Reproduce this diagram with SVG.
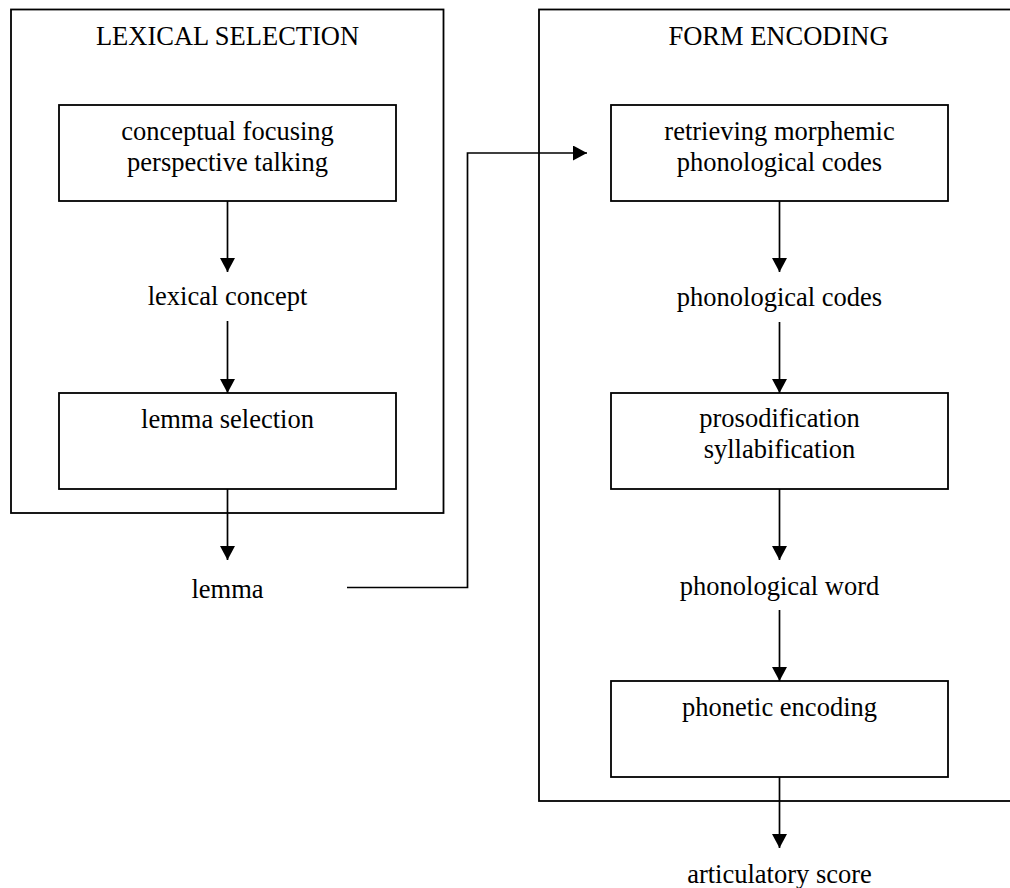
<svg xmlns="http://www.w3.org/2000/svg" width="1010" height="888" viewBox="0 0 1010 888">
<defs>
<style>
.box{fill:none;stroke:#000;stroke-width:1.8}
.frame{fill:none;stroke:#000;stroke-width:1.8}
.lbl{font-family:"Liberation Serif","Times New Roman",serif;font-size:26.5px;fill:#000;text-anchor:middle}
.con{fill:none;stroke:#000;stroke-width:1.7}
</style>
<marker id="ah" viewBox="0 0 14 15" refX="14" refY="7.5" markerWidth="14" markerHeight="15" markerUnits="userSpaceOnUse" orient="auto">
<path d="M0,0 L14,7.5 L0,15 Z" fill="#000"/>
</marker>
</defs>
<rect width="1010" height="888" fill="#fff"/>
<g id="lexical-selection">
<rect class="frame" x="11" y="9.5" width="432.5" height="503.5"/>
<text class="lbl" x="227.5" y="44.5">LEXICAL SELECTION</text>
</g>
<g id="form-encoding">
<rect class="frame" x="539" y="9.5" width="480" height="791.5"/>
<text class="lbl" x="778.5" y="44.5">FORM ENCODING</text>
</g>
<g id="conceptual-focusing">
<rect class="box" x="59" y="105" width="337" height="96"/>
<text class="lbl" x="227.5" y="140">conceptual focusing</text>
<text class="lbl" x="227.5" y="171">perspective talking</text>
</g>
<g id="lexical-concept">
<text class="lbl" x="227.5" y="305">lexical concept</text>
</g>
<g id="lemma-selection">
<rect class="box" x="59" y="393" width="337" height="96"/>
<text class="lbl" x="227.5" y="428">lemma selection</text>
</g>
<g id="lemma">
<text class="lbl" x="227.5" y="598">lemma</text>
</g>
<g id="retrieving">
<rect class="box" x="611" y="105" width="337" height="96"/>
<text class="lbl" x="779.5" y="140">retrieving morphemic</text>
<text class="lbl" x="779.5" y="171">phonological codes</text>
</g>
<g id="phonological-codes">
<text class="lbl" x="779.5" y="306">phonological codes</text>
</g>
<g id="prosodification">
<rect class="box" x="611" y="393" width="337" height="96"/>
<text class="lbl" x="779.5" y="427">prosodification</text>
<text class="lbl" x="779.5" y="458">syllabification</text>
</g>
<g id="phonological-word">
<text class="lbl" x="779.5" y="595">phonological word</text>
</g>
<g id="phonetic-encoding">
<rect class="box" x="611" y="681" width="337" height="96"/>
<text class="lbl" x="779.5" y="716">phonetic encoding</text>
</g>
<g id="articulatory-score">
<text class="lbl" x="779.5" y="883">articulatory score</text>
</g>
<g id="connectors">
<line class="con" x1="227.5" y1="201" x2="227.5" y2="272" marker-end="url(#ah)"/>
<line class="con" x1="227.5" y1="321" x2="227.5" y2="393" marker-end="url(#ah)"/>
<line class="con" x1="227.5" y1="489" x2="227.5" y2="560" marker-end="url(#ah)"/>
<polyline class="con" points="347,587.5 467.5,587.5 467.5,153 587,153" marker-end="url(#ah)"/>
<line class="con" x1="779.5" y1="201" x2="779.5" y2="272" marker-end="url(#ah)"/>
<line class="con" x1="779.5" y1="322" x2="779.5" y2="393" marker-end="url(#ah)"/>
<line class="con" x1="779.5" y1="489" x2="779.5" y2="560" marker-end="url(#ah)"/>
<line class="con" x1="779.5" y1="610" x2="779.5" y2="681" marker-end="url(#ah)"/>
<line class="con" x1="779.5" y1="777" x2="779.5" y2="848" marker-end="url(#ah)"/>
</g>
</svg>
